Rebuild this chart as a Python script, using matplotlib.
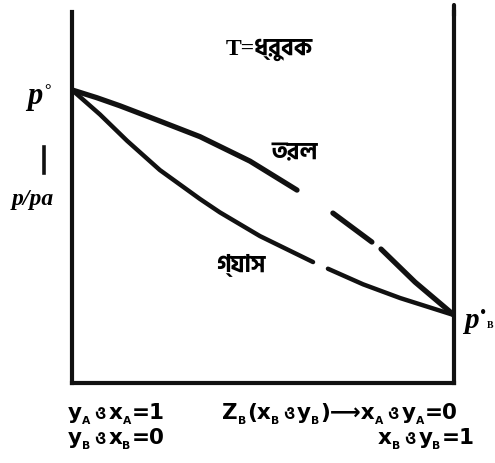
import numpy as np
import matplotlib
matplotlib.use("Agg")
import matplotlib.pyplot as plt
from matplotlib.lines import Line2D

# mole fraction of B (0 at left wall, 1 at right wall) and total pressure
# nan marks where the printed line is broken
liquid_x = [0.0, 0.065, 0.126, 0.230, 0.335, 0.466, 0.589, np.nan, 0.683, 0.785, np.nan, 0.809, 0.898, 1.0]
liquid_p = [79.0, 76.9, 74.7, 70.6, 66.4, 59.8, 52.0, np.nan, 45.8, 38.0, np.nan, 36.1, 27.2, 18.3]

gas_x = [0.0, 0.073, 0.144, 0.230, 0.335, 0.387, 0.492, 0.631, np.nan, 0.670, 0.762, 0.859, 1.0]
gas_p = [79.0, 72.4, 65.3, 57.4, 49.6, 46.0, 39.6, 32.6, np.nan, 30.8, 26.6, 22.9, 18.3]

title_text = "T=ধ্রুবক"
liquid_label = "তরল"
gas_label = "গ্যাস"
y_axis_label = "p/pa"

# bottom captions: (text, kind) with kind 0 = normal, 1 = subscript, 2 = bengali "and"
# None = word gap
left_row1 = [("y", 0), ("A", 1), None, ("ও", 2), None, ("x", 0), ("A", 1), ("=1", 0)]
left_row2 = [("y", 0), ("B", 1), None, ("ও", 2), None, ("x", 0), ("B", 1), ("=0", 0)]
right_row1 = [("Z", 0), ("B", 1), ("(x", 0), ("B", 1), None, ("ও", 2), None, ("y", 0), ("B", 1),
              (")⟶x", 0), ("A", 1), None, ("ও", 2), None, ("y", 0), ("A", 1), ("=0", 0)]
right_row2 = [("x", 0), ("B", 1), None, ("ও", 2), None, ("y", 0), ("B", 1), ("=1", 0)]

W, H = 495, 463
fig = plt.figure(figsize=(W / 100, H / 100), dpi=100)
fig.patch.set_facecolor("white")

ink = "#111111"
ax = fig.add_axes([72 / W, (H - 383) / H, (454 - 72) / W, (383 - 12) / H])
ax.set_xlim(0, 1)
ax.set_ylim(0, 100)
ax.set_xticks([])
ax.set_yticks([])
ax.spines["top"].set_visible(False)
for side in ["left", "right", "bottom"]:
    ax.spines[side].set_linewidth(3.0)
    ax.spines[side].set_color(ink)
# right wall is drawn a little higher than the left one
ax.plot([1, 1], [99, 101.8], color=ink, lw=3.0, clip_on=False, solid_capstyle="round")

ax.plot(liquid_x, liquid_p, color=ink, lw=3.8, solid_capstyle="round", solid_joinstyle="round")
ax.plot(gas_x, gas_p, color=ink, lw=3.2, solid_capstyle="round", solid_joinstyle="round")

serif = ["Liberation Serif", "Hind Siliguri", "DejaVu Serif"]
beng = ["Hind Siliguri", "DejaVu Sans"]
sans = ["DejaVu Sans", "Hind Siliguri"]


def fx(x):
    return x / W


def fy(y):
    return 1 - y / H


fig.text(fx(269), fy(50), title_text, family=serif, fontweight="bold", fontsize=17,
         ha="center", va="center")
fig.text(fx(295), fy(153), liquid_label, family=beng, fontweight="bold", fontsize=17,
         ha="center", va="center")
fig.text(fx(241), fy(265), gas_label, family=beng, fontweight="bold", fontsize=17,
         ha="center", va="center")

# p° on the left wall, with the short bar and p/pa below it
fig.text(fx(35), fy(104), "p", family=serif, style="italic", fontweight="bold", fontsize=22,
         ha="center", va="baseline")
fig.text(fx(48), fy(95), "°", family=serif, fontweight="bold", fontsize=12, ha="center", va="baseline")
fig.add_artist(Line2D([fx(44), fx(44)], [fy(147), fy(173)], color=ink, lw=2.6))
fig.text(fx(33), fy(205), y_axis_label, family=serif, style="italic", fontweight="bold",
         fontsize=17, ha="center", va="baseline")

# p°B on the right wall
fig.text(fx(471), fy(328), "p", family=serif, style="italic", fontweight="bold", fontsize=21,
         ha="center", va="baseline")
fig.text(fx(483), fy(318), "•", family=serif, fontsize=13, ha="center", va="baseline")
fig.text(fx(490), fy(328), "B", family=serif, fontweight="bold", fontsize=7, ha="center", va="baseline")

renderer = fig.canvas.get_renderer()


def run_text(x, y, parts, size=15.5):
    for part in parts:
        if part is None:
            x += size * 0.2
            continue
        s, kind = part
        fs = {0: size, 1: size * 0.5, 2: size * 0.8}[kind]
        dy = size * 0.3 if kind == 1 else 0
        t = fig.text(fx(x), fy(y + dy), s, family=sans, fontweight="bold", fontsize=fs,
                     ha="left", va="baseline")
        x += t.get_window_extent(renderer).width + (1 if kind == 1 else 0)


run_text(68, 419, left_row1)
run_text(68, 444, left_row2)
run_text(222, 419, right_row1)
run_text(378, 444, right_row2)

fig.savefig("out.png", dpi=100, facecolor="white")
